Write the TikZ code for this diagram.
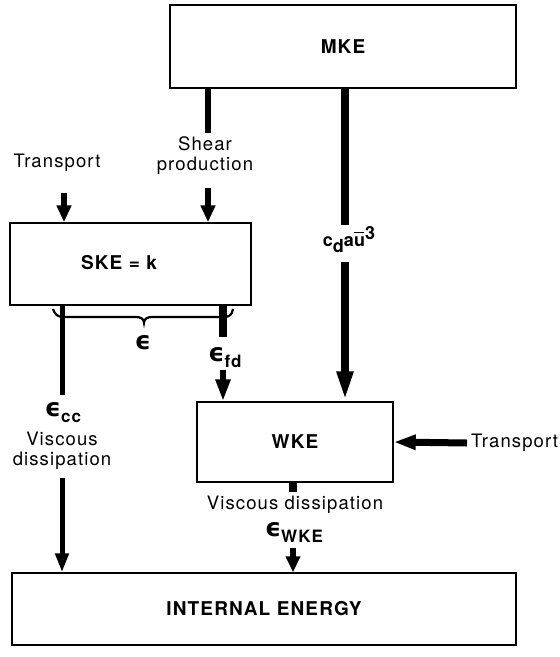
\documentclass[tikz,border=0pt]{standalone}
\usepackage{fontspec}
\setmainfont{TeX Gyre Heros}[LetterSpace=6]
\newfontfamily\epsfont{DejaVu Sans}
\usetikzlibrary{arrows.meta}
\newcommand{\epsl}{{\epsfont\bfseries\fontsize{25}{26}\selectfont ϵ}}
\newcommand{\subl}[1]{\raisebox{-6pt}{\fontsize{17}{18}\selectfont\bfseries #1}}
\newcommand{\ubar}{\rlap{\raisebox{13.5pt}{\rule{10pt}{1.8pt}}}u}
\tikzset{
  boxnode/.style={draw, line width=1.4pt, inner sep=0pt, font=\fontsize{19}{22}\selectfont\bfseries},
  lbl/.style={inner sep=0pt, align=center, font=\fontsize{18.5}{20}\selectfont},
  blbl/.style={inner sep=0pt, font=\fontsize{19}{22}\selectfont\bfseries},
  flowline/.style={line width=#1},
  flowline/.default=6pt,
  arr/.style={line width=6pt, -{Triangle[length=#1,width=14pt]}},
  arr/.default=19pt,
}
\begin{document}
\begin{tikzpicture}[x=1pt,y=-1pt]
\useasboundingbox (0,0) rectangle (560,657);
% boxes
\node[boxnode, minimum width=346pt, minimum height=83pt] (mke) at (343,46.5) {MKE};
\node[boxnode, minimum width=241pt, minimum height=82pt] (ske) at (130.5,264) {};
\node[blbl] (sket) at (119,263) {SKE = k};
\node[boxnode, minimum width=196pt, minimum height=80pt] (wke) at (295,442) {WKE};
\node[boxnode, minimum width=504pt, minimum height=72pt] (int) at (264,609) {INTERNAL ENERGY};

% brace under SKE
\draw[line width=2.2pt] (53,309) .. controls (55,315) and (58,317) .. (64,317) -- (136,317)
  .. controls (141,317) and (144,319) .. (144,323) .. controls (144,319) and (147,317) .. (152,317)
  -- (224,317) .. controls (229,317) and (232,315) .. (233,309);
\node[lbl] (eps) at (143,343) {\epsl};

% Transport (left) into SKE
\node[lbl] (trl) at (57,163) {Transport};
\coordinate (tl1) at (64,193);
\draw[arr=17pt] (tl1) -- (tl1 |- ske.north);

% Shear production
\coordinate (sh1) at (208,133);
\coordinate (sh2) at (208,188);
\draw[flowline] (sh1 |- mke.south) -- (sh1);
\node[lbl] (shear) at (205,156) {Shear\\production};
\draw[arr=17pt] (sh2) -- (sh2 |- ske.north);

% MKE -> WKE
\coordinate (mk1) at (345,225);
\coordinate (mk2) at (345,262);
\draw[flowline=8pt] (mk1 |- mke.south) -- (mk1);
\node[blbl, font=\fontsize{18}{20}\selectfont\bfseries] (cdau) at (349,240) {c\raisebox{-6pt}{d}a\ubar\raisebox{7pt}{3}};
\draw[line width=8pt, -{Triangle[length=30pt,width=15pt]}] (mk2) -- (mk2 |- wke.north);

% SKE left branch -> internal energy
\coordinate (cc1) at (62,395);
\coordinate (cc2) at (62,478);
\draw[flowline=5pt] (cc1 |- ske.south) -- (cc1);
\node[lbl] (ecc) at (63,413) {\epsl\subl{cc}};
\node[lbl] (visc1) at (62,451) {Viscous\\dissipation};
\draw[line width=5pt, -{Triangle[length=19pt,width=13pt]}] (cc2) -- (cc2 |- int.north);

% SKE right branch -> WKE
\coordinate (fd1) at (223,337);
\coordinate (fd2) at (223,370);
\draw[flowline=8pt] (fd1 |- ske.south) -- (fd1);
\node[lbl] (efd) at (225,358) {\epsl\subl{fd}};
\draw[arr=22pt] (fd2) -- (fd2 |- wke.north);

% Transport (right) into WKE
\node[lbl, anchor=west] (trr) at (471,443) {Transport};
\draw[line width=7pt, -{Triangle[length=22pt,width=14pt]}] ([xshift=-4pt]trr.west) -- (wke.east);

% WKE -> internal energy
\coordinate (wk1) at (293,492);
\coordinate (wk2) at (293,548);
\draw[flowline=8pt] (wk1 |- wke.south) -- (wk1);
\node[lbl] (visc2) at (295,505) {Viscous dissipation};
\node[lbl] (ewke) at (294,532) {\epsl\subl{WKE}};
\draw[arr=16pt] (wk2) -- (wk2 |- int.north);
\end{tikzpicture}
\end{document}
